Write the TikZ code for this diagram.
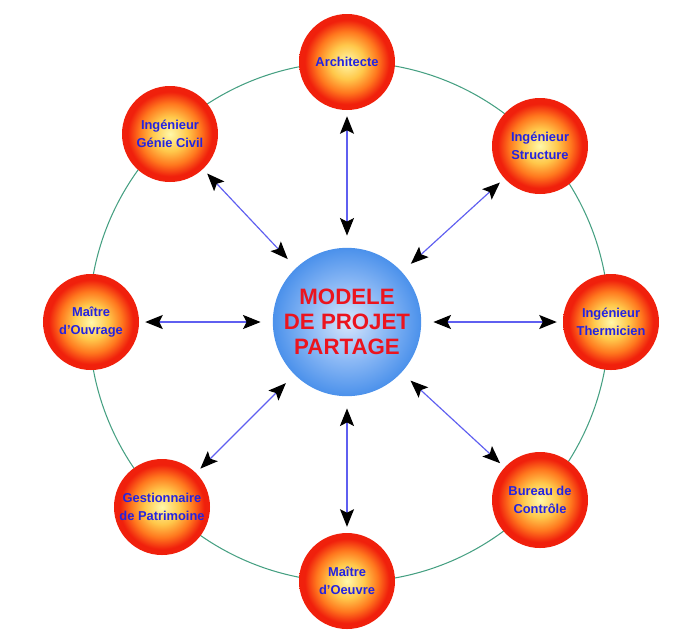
\documentclass[tikz,border=0pt]{standalone}
\usepackage{fontspec}
\setmainfont{Liberation Sans}
\usetikzlibrary{arrows.meta}
\definecolor{ringgreen}{RGB}{70, 160, 130}
\definecolor{linkblue}{RGB}{95, 95, 240}
\definecolor{labelblue}{RGB}{35, 35, 225}
\definecolor{hubred}{RGB}{235, 20, 30}
\definecolor{ballcore}{RGB}{255, 248, 170}
\definecolor{ballmid}{RGB}{255, 200, 75}
\definecolor{ballorange}{RGB}{255, 120, 30}
\definecolor{ballrim}{RGB}{240, 32, 12}
\definecolor{hubcore}{RGB}{215, 230, 252}
\definecolor{hubmid}{RGB}{140, 185, 245}
\definecolor{hubrim}{RGB}{75, 145, 235}
\pgfdeclareradialshading{redball}{\pgfpointorigin}{color(0bp)=(ballcore); color(9bp)=(ballmid); color(16bp)=(ballorange); color(22bp)=(ballrim); color(25bp)=(ballrim); color(50bp)=(ballrim)}
\pgfdeclareradialshading{blueball}{\pgfpointorigin}{color(0bp)=(hubcore); color(13bp)=(hubmid); color(25bp)=(hubrim); color(50bp)=(hubrim)}
\tikzset{
  actor/.style={circle, shade, shading=redball, minimum size=2.88cm, inner sep=0pt,
    align=center, text=labelblue, font=\fontsize{11}{15}\selectfont\bfseries},
  hub/.style={circle, shade, shading=blueball, minimum size=4.45cm,
    inner sep=0pt, align=center, text=hubred, font=\fontsize{19}{21.5}\selectfont\bfseries},
  link/.style={linkblue, line width=1pt,
    {Stealth[black, length=15pt, width=12pt, inset=3pt]}-{Stealth[black, length=15pt, width=12pt, inset=3pt]},
    shorten <=0.18cm, shorten >=0.36cm}
}

\begin{document}
\begin{tikzpicture}[x=0.03cm, y=-0.03cm]
  \useasboundingbox (0,0) rectangle (674,631);

  % Ring behind the actors
  \draw[ringgreen, line width=0.9pt] (349,322) circle (7.8cm);

  % Shared model
  \node[hub] (hub) at (347,322) {MODELE\\DE PROJET\\PARTAGE};

  % Actors
  \node[actor] (arch) at (347,62) {Architecte};
  \node[actor] (gcivil) at (170,134) {Ingénieur\\Génie Civil};
  \node[actor] (struct) at (540,146) {Ingénieur\\Structure};
  \node[actor] (moa) at (91,322) {Maître\\d'Ouvrage};
  \node[actor] (therm) at (611,322) {Ingénieur\\Thermicien};
  \node[actor] (gest) at (162,507) {Gestionnaire\\de Patrimoine};
  \node[actor] (bureau) at (540,500) {Bureau de\\Contrôle};
  \node[actor] (moe) at (347,581) {Maître\\d'Oeuvre};

  % Exchanges with the model
  \draw[link] (arch) -- (hub);
  \draw[link] (gcivil) -- (hub);
  \draw[link] (struct) -- (hub);
  \draw[link] (moa) -- (hub);
  \draw[link] (therm) -- (hub);
  \draw[link] (gest) -- (hub);
  \draw[link] (bureau) -- (hub);
  \draw[link] (moe) -- (hub);
\end{tikzpicture}
\end{document}
